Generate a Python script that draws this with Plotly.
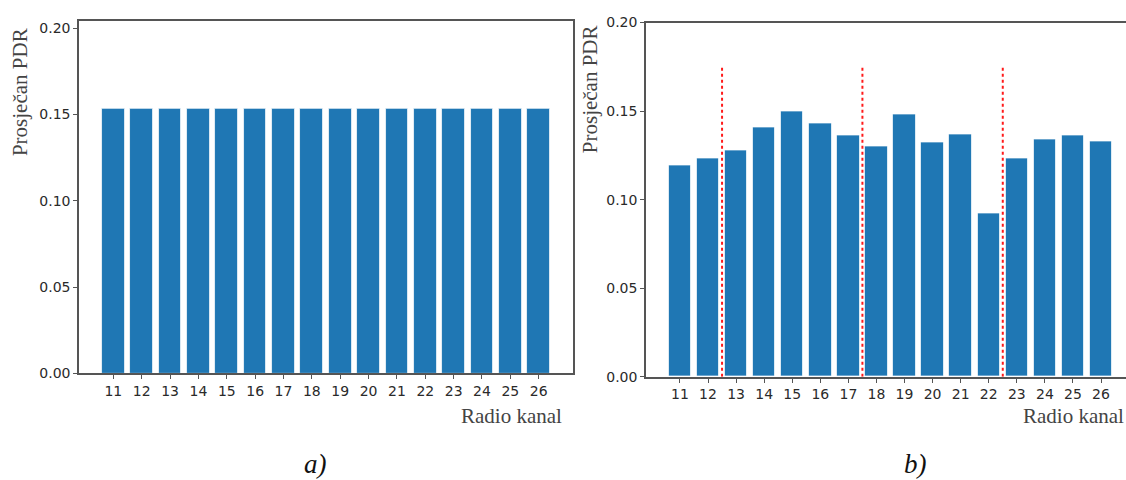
import plotly.graph_objects as go

# Radio channels (IEEE 802.15.4, 2.4 GHz band)
channels = list(range(11, 27))
channel_labels = [str(c) for c in channels]

# Average PDR per channel: uniform allocation (a) and measured per-channel (b)
pdr_uniform = [0.153] * 16
pdr_measured = [0.119, 0.123, 0.128, 0.141, 0.150, 0.143, 0.136, 0.130,
                0.148, 0.132, 0.137, 0.092, 0.123, 0.134, 0.136, 0.133]

# Group boundaries drawn as dashed separators in (b)
separators = [12.5, 17.5, 22.5]
separator_top = 0.175

y_ticks = [0.0, 0.05, 0.10, 0.15, 0.20]
y_tick_labels = ["0.00", "0.05", "0.10", "0.15", "0.20"]

BAR = "#1f77b4"
SPINE = "#555555"
TICKFONT = dict(family="DejaVu Sans", size=14, color="#2a2a2a")
SERIF = "Liberation Serif"

fig = go.Figure()

fig.add_trace(go.Bar(
    x=channels, y=pdr_uniform, width=0.8,
    marker=dict(color=BAR, line=dict(color="rgba(255,255,255,0.7)", width=1)),
    xaxis="x", yaxis="y", showlegend=False,
))
fig.add_trace(go.Bar(
    x=channels, y=pdr_measured, width=0.8,
    marker=dict(color=BAR, line=dict(color="rgba(255,255,255,0.7)", width=1)),
    xaxis="x2", yaxis="y2", showlegend=False,
))

for xs in separators:
    fig.add_trace(go.Scatter(
        x=[xs, xs], y=[0, separator_top], mode="lines",
        line=dict(color="#ff1a1a", width=2, dash="dot"),
        xaxis="x2", yaxis="y2", showlegend=False, hoverinfo="skip",
    ))

common_x = dict(
    tickmode="array", tickvals=channels, ticktext=channel_labels,
    ticks="outside", ticklen=4, tickwidth=1.2, tickcolor=SPINE,
    tickfont=TICKFONT, showgrid=False, zeroline=False,
    showline=True, linecolor=SPINE, linewidth=1.5,
)
common_y = dict(
    tickmode="array", tickvals=y_ticks, ticktext=y_tick_labels,
    ticks="outside", ticklen=4, tickwidth=1.2, tickcolor=SPINE,
    tickfont=TICKFONT, showgrid=False, zeroline=False,
    showline=True, linecolor=SPINE, linewidth=1.5,
)

fig.update_layout(
    width=1126, height=480,
    margin=dict(l=0, r=0, t=0, b=0),
    paper_bgcolor="white", plot_bgcolor="white",
    bargap=0,
    xaxis=dict(domain=[0.0702, 0.5089], range=[9.79, 27.21], anchor="y",
               mirror=True, **common_x),
    yaxis=dict(domain=[0.2125, 0.9723], range=[0, 0.2042], anchor="x",
               mirror=True, **common_y),
    xaxis2=dict(domain=[0.5737, 1.0], range=[9.79, 26.89], anchor="y2",
                mirror=True, **common_x),
    yaxis2=dict(domain=[0.2052, 0.96875], range=[0, 0.2], anchor="x2",
                **common_y),
)


def px(x, y):
    """Pixel position on the page to paper coordinates."""
    return x / 1126, 1 - y / 480


annotations = []
for cx, cy in [(20, 87), (590, 84)]:
    x, y = px(cx, cy)
    annotations.append(dict(text="Prosječan PDR", x=x, y=y, textangle=-90,
                            xanchor="center", yanchor="middle",
                            font=dict(family=SERIF, size=21, color="#444444")))
for rx, cy in [(564, 422), (1126, 422)]:
    x, y = px(rx, cy)
    annotations.append(dict(text="Radio kanal", x=x, y=y,
                            xanchor="right", yanchor="middle",
                            font=dict(family=SERIF, size=21, color="#444444")))
for label, cx, cy in [("a)", 315, 472), ("b)", 915, 472)]:
    x, y = px(cx, cy)
    annotations.append(dict(text=f"<i>{label}</i>", x=x, y=y,
                            xanchor="center", yanchor="middle",
                            font=dict(family=SERIF, size=27, color="#111111")))
for a in annotations:
    a.update(xref="paper", yref="paper", showarrow=False)
fig.update_layout(annotations=annotations)

fig.write_html("out.html")
